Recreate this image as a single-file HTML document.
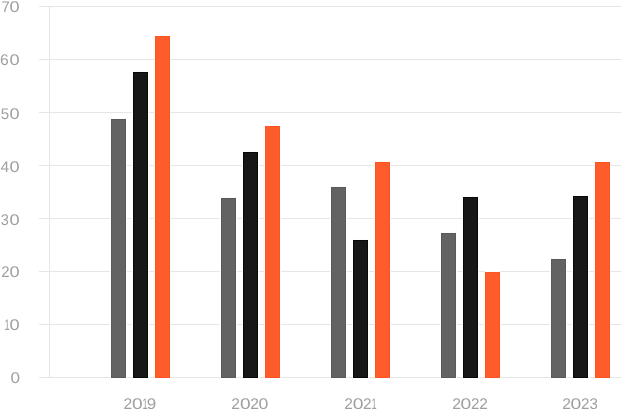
<!DOCTYPE html>
<html lang="en">
<head>
<meta charset="utf-8">
<title>Chart</title>
<style>
html,body{margin:0;padding:0;background:#fff;}
body{width:621px;height:409px;overflow:hidden;}
svg{display:block;}
svg text{text-rendering:geometricPrecision;font-family:"Liberation Sans",sans-serif;font-size:15.4px;fill:#9f9f9f;}
</style>
</head>
<body>
<svg width="621" height="409" viewBox="0 0 621 409">
<rect x="0" y="0" width="621" height="409" fill="#ffffff"/>
<g shape-rendering="crispEdges">
<rect x="39" y="6" width="582" height="1" fill="#e6e6e6"/>
<rect x="39" y="59" width="582" height="1" fill="#e6e6e6"/>
<rect x="39" y="112" width="582" height="1" fill="#e6e6e6"/>
<rect x="39" y="165" width="582" height="1" fill="#e6e6e6"/>
<rect x="39" y="218" width="582" height="1" fill="#e6e6e6"/>
<rect x="39" y="271" width="582" height="1" fill="#e6e6e6"/>
<rect x="39" y="324" width="582" height="1" fill="#e6e6e6"/>
<rect x="39" y="377" width="582" height="1" fill="#e6e6e6"/>
<rect x="49" y="6" width="1" height="372" fill="#e6e6e6"/>
<rect x="111" y="118" width="15" height="1" fill="#fafdfe"/>
<rect x="110" y="119" width="17" height="259" fill="#ffffff"/>
<rect x="111" y="119" width="15" height="259" fill="#595959"/>
<rect x="112" y="120" width="13" height="257" fill="#636363"/>
<rect x="133" y="71" width="15" height="1" fill="#fafdfe"/>
<rect x="132" y="72" width="17" height="306" fill="#ffffff"/>
<rect x="133" y="72" width="15" height="306" fill="#080808"/>
<rect x="134" y="73" width="13" height="304" fill="#171717"/>
<rect x="155" y="35" width="15" height="1" fill="#fafdfe"/>
<rect x="154" y="36" width="17" height="342" fill="#ffffff"/>
<rect x="155" y="36" width="15" height="342" fill="#ff5421"/>
<rect x="156" y="37" width="13" height="340" fill="#ff5c2b"/>
<rect x="221" y="197" width="15" height="1" fill="#fafdfe"/>
<rect x="220" y="198" width="17" height="180" fill="#ffffff"/>
<rect x="221" y="198" width="15" height="180" fill="#595959"/>
<rect x="222" y="199" width="13" height="178" fill="#636363"/>
<rect x="243" y="151" width="15" height="1" fill="#fafdfe"/>
<rect x="242" y="152" width="17" height="226" fill="#ffffff"/>
<rect x="243" y="152" width="15" height="226" fill="#080808"/>
<rect x="244" y="153" width="13" height="224" fill="#171717"/>
<rect x="265" y="125" width="15" height="1" fill="#fafdfe"/>
<rect x="264" y="126" width="17" height="252" fill="#ffffff"/>
<rect x="265" y="126" width="15" height="252" fill="#ff5421"/>
<rect x="266" y="127" width="13" height="250" fill="#ff5c2b"/>
<rect x="331" y="186" width="15" height="1" fill="#fafdfe"/>
<rect x="330" y="187" width="17" height="191" fill="#ffffff"/>
<rect x="331" y="187" width="15" height="191" fill="#595959"/>
<rect x="332" y="188" width="13" height="189" fill="#636363"/>
<rect x="353" y="239" width="15" height="1" fill="#fafdfe"/>
<rect x="352" y="240" width="17" height="138" fill="#ffffff"/>
<rect x="353" y="240" width="15" height="138" fill="#080808"/>
<rect x="354" y="241" width="13" height="136" fill="#171717"/>
<rect x="375" y="161" width="15" height="1" fill="#fafdfe"/>
<rect x="374" y="162" width="17" height="216" fill="#ffffff"/>
<rect x="375" y="162" width="15" height="216" fill="#ff5421"/>
<rect x="376" y="163" width="13" height="214" fill="#ff5c2b"/>
<rect x="441" y="232" width="15" height="1" fill="#fafdfe"/>
<rect x="440" y="233" width="17" height="145" fill="#ffffff"/>
<rect x="441" y="233" width="15" height="145" fill="#595959"/>
<rect x="442" y="234" width="13" height="143" fill="#636363"/>
<rect x="463" y="196" width="15" height="1" fill="#fafdfe"/>
<rect x="462" y="197" width="17" height="181" fill="#ffffff"/>
<rect x="463" y="197" width="15" height="181" fill="#080808"/>
<rect x="464" y="198" width="13" height="179" fill="#171717"/>
<rect x="485" y="271" width="15" height="1" fill="#fafdfe"/>
<rect x="484" y="272" width="17" height="106" fill="#ffffff"/>
<rect x="485" y="272" width="15" height="106" fill="#ff5421"/>
<rect x="486" y="273" width="13" height="104" fill="#ff5c2b"/>
<rect x="551" y="258" width="15" height="1" fill="#fafdfe"/>
<rect x="550" y="259" width="17" height="119" fill="#ffffff"/>
<rect x="551" y="259" width="15" height="119" fill="#595959"/>
<rect x="552" y="260" width="13" height="117" fill="#636363"/>
<rect x="573" y="195" width="15" height="1" fill="#fafdfe"/>
<rect x="572" y="196" width="17" height="182" fill="#ffffff"/>
<rect x="573" y="196" width="15" height="182" fill="#080808"/>
<rect x="574" y="197" width="13" height="180" fill="#171717"/>
<rect x="595" y="161" width="15" height="1" fill="#fafdfe"/>
<rect x="594" y="162" width="17" height="216" fill="#ffffff"/>
<rect x="595" y="162" width="15" height="216" fill="#ff5421"/>
<rect x="596" y="163" width="13" height="214" fill="#ff5c2b"/>
</g>
<g>
<text y="12.00"><tspan x="1.40" textLength="8.31" lengthAdjust="spacingAndGlyphs">7</tspan><tspan x="9.52" textLength="10.13" lengthAdjust="spacingAndGlyphs">0</tspan></text>
<text y="65.00"><tspan x="0.07" textLength="8.70" lengthAdjust="spacingAndGlyphs">6</tspan><tspan x="9.52" textLength="10.13" lengthAdjust="spacingAndGlyphs">0</tspan></text>
<text y="119.00"><tspan x="0.64" textLength="8.43" lengthAdjust="spacingAndGlyphs">5</tspan><tspan x="9.52" textLength="10.13" lengthAdjust="spacingAndGlyphs">0</tspan></text>
<text y="172.00"><tspan x="0.56" textLength="8.68" lengthAdjust="spacingAndGlyphs">4</tspan><tspan x="9.52" textLength="10.13" lengthAdjust="spacingAndGlyphs">0</tspan></text>
<text y="225.00"><tspan x="0.87" textLength="8.11" lengthAdjust="spacingAndGlyphs">3</tspan><tspan x="9.52" textLength="10.13" lengthAdjust="spacingAndGlyphs">0</tspan></text>
<text y="277.00"><tspan x="1.20" textLength="8.31" lengthAdjust="spacingAndGlyphs">2</tspan><tspan x="9.52" textLength="10.13" lengthAdjust="spacingAndGlyphs">0</tspan></text>
<text y="330.00"><tspan x="4.40" textLength="5.14" lengthAdjust="spacingAndGlyphs">1</tspan><tspan x="9.52" textLength="10.13" lengthAdjust="spacingAndGlyphs">0</tspan></text>
<text y="383.00"><tspan x="10.41" textLength="9.54" lengthAdjust="spacingAndGlyphs">0</tspan></text>
<text y="409.00"><tspan x="123.47" textLength="8.68" lengthAdjust="spacingAndGlyphs">2</tspan><tspan x="132.08" textLength="10.65" lengthAdjust="spacingAndGlyphs">0</tspan><tspan x="142.50" textLength="5.14" lengthAdjust="spacingAndGlyphs">1</tspan><tspan x="146.89" textLength="9.45" lengthAdjust="spacingAndGlyphs">9</tspan></text>
<text y="409.00"><tspan x="231.37" textLength="8.68" lengthAdjust="spacingAndGlyphs">2</tspan><tspan x="239.98" textLength="10.65" lengthAdjust="spacingAndGlyphs">0</tspan><tspan x="250.17" textLength="8.68" lengthAdjust="spacingAndGlyphs">2</tspan><tspan x="258.64" textLength="9.84" lengthAdjust="spacingAndGlyphs">0</tspan></text>
<text y="409.00"><tspan x="344.28" textLength="8.56" lengthAdjust="spacingAndGlyphs">2</tspan><tspan x="352.68" textLength="10.77" lengthAdjust="spacingAndGlyphs">0</tspan><tspan x="362.98" textLength="8.56" lengthAdjust="spacingAndGlyphs">2</tspan><tspan x="371.50" textLength="5.14" lengthAdjust="spacingAndGlyphs">1</tspan></text>
<text y="409.00"><tspan x="452.17" textLength="8.68" lengthAdjust="spacingAndGlyphs">2</tspan><tspan x="460.58" textLength="10.77" lengthAdjust="spacingAndGlyphs">0</tspan><tspan x="471.09" textLength="8.43" lengthAdjust="spacingAndGlyphs">2</tspan><tspan x="479.28" textLength="8.56" lengthAdjust="spacingAndGlyphs">2</tspan></text>
<text y="409.00"><tspan x="562.17" textLength="8.68" lengthAdjust="spacingAndGlyphs">2</tspan><tspan x="570.58" textLength="10.77" lengthAdjust="spacingAndGlyphs">0</tspan><tspan x="581.09" textLength="8.43" lengthAdjust="spacingAndGlyphs">2</tspan><tspan x="589.45" textLength="8.40" lengthAdjust="spacingAndGlyphs">3</tspan></text>
</g>
</svg>
</body>
</html>
